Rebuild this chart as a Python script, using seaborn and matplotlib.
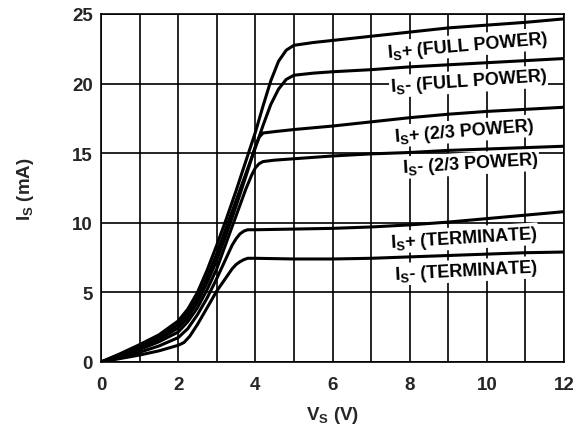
import matplotlib
matplotlib.use("Agg")
import matplotlib.pyplot as plt
import seaborn as sns
import pandas as pd

# ---- data ----
x_full_p = [0, 0.5, 1, 1.5, 2, 2.25, 2.5, 2.75, 3, 3.25, 3.5, 3.75, 4, 4.2, 4.4, 4.6, 4.8, 5, 5.5, 6, 7, 8, 9, 10, 11, 12]
y_full_p = [0, 0.6, 1.25, 1.95, 2.95, 3.8, 5.0, 6.6, 8.4, 10.3, 12.3, 14.4, 16.5, 18.4, 20.2, 21.6, 22.4, 22.75, 22.95, 23.1, 23.4, 23.7, 24.0, 24.2, 24.4, 24.65]

x_full_m = [0, 0.5, 1, 1.5, 2, 2.25, 2.5, 2.75, 3, 3.25, 3.5, 3.75, 4, 4.2, 4.4, 4.6, 4.8, 5, 5.5, 6, 7, 8, 9, 10, 11, 12]
y_full_m = [0, 0.55, 1.1, 1.75, 2.7, 3.5, 4.6, 6.1, 7.8, 9.7, 11.6, 13.5, 15.4, 17.0, 18.5, 19.6, 20.3, 20.6, 20.75, 20.85, 21.0, 21.2, 21.35, 21.5, 21.65, 21.8]

x_23_p = [0, 0.5, 1, 1.5, 2, 2.25, 2.5, 2.75, 3, 3.25, 3.5, 3.75, 3.9, 4.0, 4.1, 4.2, 4.5, 5, 6, 7, 8, 9, 10, 11, 12]
y_23_p = [0, 0.5, 1.0, 1.6, 2.45, 3.2, 4.3, 5.7, 7.3, 9.2, 11.2, 13.3, 14.6, 15.5, 16.15, 16.45, 16.55, 16.7, 16.95, 17.25, 17.55, 17.8, 18.0, 18.15, 18.3]

x_23_m = [0, 0.5, 1, 1.5, 2, 2.25, 2.5, 2.75, 3, 3.25, 3.5, 3.75, 3.9, 4.0, 4.1, 4.2, 4.5, 5, 6, 7, 8, 9, 10, 11, 12]
y_23_m = [0, 0.45, 0.9, 1.45, 2.15, 2.9, 3.9, 5.2, 6.7, 8.6, 10.5, 12.4, 13.4, 13.95, 14.25, 14.4, 14.5, 14.6, 14.8, 14.95, 15.05, 15.2, 15.3, 15.4, 15.5]

x_term_p = [0, 0.5, 1, 1.5, 2, 2.25, 2.5, 2.75, 3, 3.25, 3.4, 3.5, 3.6, 3.7, 3.8, 4, 5, 6, 7, 8, 9, 10, 11, 12]
y_term_p = [0, 0.35, 0.7, 1.15, 1.75, 2.4, 3.4, 4.6, 6.0, 7.5, 8.4, 8.85, 9.2, 9.4, 9.5, 9.5, 9.55, 9.6, 9.7, 9.85, 10.05, 10.3, 10.55, 10.8]

x_term_m = [0, 0.5, 1, 1.5, 2, 2.15, 2.3, 2.5, 2.75, 3, 3.25, 3.4, 3.5, 3.6, 3.7, 3.8, 4, 5, 6, 7, 8, 9, 10, 11, 12]
y_term_m = [0, 0.25, 0.5, 0.8, 1.2, 1.4, 1.85, 2.7, 3.9, 5.1, 6.1, 6.7, 7.0, 7.2, 7.35, 7.45, 7.45, 7.4, 7.4, 7.45, 7.55, 7.65, 7.75, 7.85, 7.9]

series_names = ["full_p", "full_m", "23_p", "23_m", "term_p", "term_m"]
label_texts = [r"$\mathrm{I_S}$+ (FULL POWER)", r"$\mathrm{I_S}$- (FULL POWER)",
               r"$\mathrm{I_S}$+ (2/3 POWER)", r"$\mathrm{I_S}$- (2/3 POWER)",
               r"$\mathrm{I_S}$+ (TERMINATE)", r"$\mathrm{I_S}$- (TERMINATE)"]
label_x = [9.5, 9.52, 9.42, 9.58, 9.4, 9.45]
label_y = [22.75, 20.15, 16.6, 14.25, 8.9, 6.55]
label_rot = [5.0, 4.0, 4.5, 3.5, 3.5, 3.0]

x_ticks = [0, 2, 4, 6, 8, 10, 12]
y_ticks = [0, 5, 10, 15, 20, 25]

# ---- build table ----
xs = [x_full_p, x_full_m, x_23_p, x_23_m, x_term_p, x_term_m]
ys = [y_full_p, y_full_m, y_23_p, y_23_m, y_term_p, y_term_m]
rows = []
for name, xx, yy in zip(series_names, xs, ys):
    for a, b in zip(xx, yy):
        rows.append({"series": name, "V": a, "I": b})
df = pd.DataFrame(rows)

sns.set_theme(style="white")
plt.rcParams["font.family"] = ["Liberation Sans"]
plt.rcParams["font.weight"] = "bold"
plt.rcParams["mathtext.fontset"] = "custom"
plt.rcParams["mathtext.rm"] = "Liberation Sans:bold"
plt.rcParams["mathtext.it"] = "Liberation Sans:bold"
plt.rcParams["mathtext.bf"] = "Liberation Sans:bold"

fig = plt.figure(figsize=(5.86, 4.27), dpi=100)
ax = fig.add_axes([0.1724, 0.1499, 0.7901, 0.815])

# grid
for v in range(0, 13):
    ax.axvline(v, color="black", lw=1.2, zorder=1)
for h in range(0, 26, 5):
    ax.axhline(h, color="black", lw=1.2, zorder=1)

sns.lineplot(data=df, x="V", y="I", hue="series", units="series", estimator=None,
             palette=["black"] * 6, legend=False, lw=2.2, ax=ax, zorder=4, sort=False)

for t, lx, ly, r in zip(label_texts, label_x, label_y, label_rot):
    ax.text(lx, ly, t, ha="center", va="center", rotation=r, rotation_mode="anchor",
            fontsize=13, fontweight="bold", color="black", zorder=3,
            bbox=dict(facecolor="white", edgecolor="none", pad=0.5))

ax.set_xlim(0, 12)
ax.set_ylim(0, 25)
ax.set_xticks(x_ticks)
ax.set_yticks(y_ticks)
ax.set_xticklabels([str(t) for t in x_ticks], fontsize=13.5, fontweight="bold")
ax.set_yticklabels([str(t) for t in y_ticks], fontsize=13.5, fontweight="bold")
ax.tick_params(axis="x", length=0, pad=10)
ax.tick_params(axis="y", length=0, pad=6)
for s in ax.spines.values():
    s.set_color("black")
    s.set_linewidth(1.2)
    s.set_zorder(5)
ax.set_xlabel(r"$\mathrm{V_S}$ (V)", fontsize=13.5, fontweight="bold", labelpad=8)
ax.set_ylabel(r"$\mathrm{I_S}$ (mA)", fontsize=13.5, fontweight="bold", labelpad=26)

fig.savefig("out.png", dpi=100)
